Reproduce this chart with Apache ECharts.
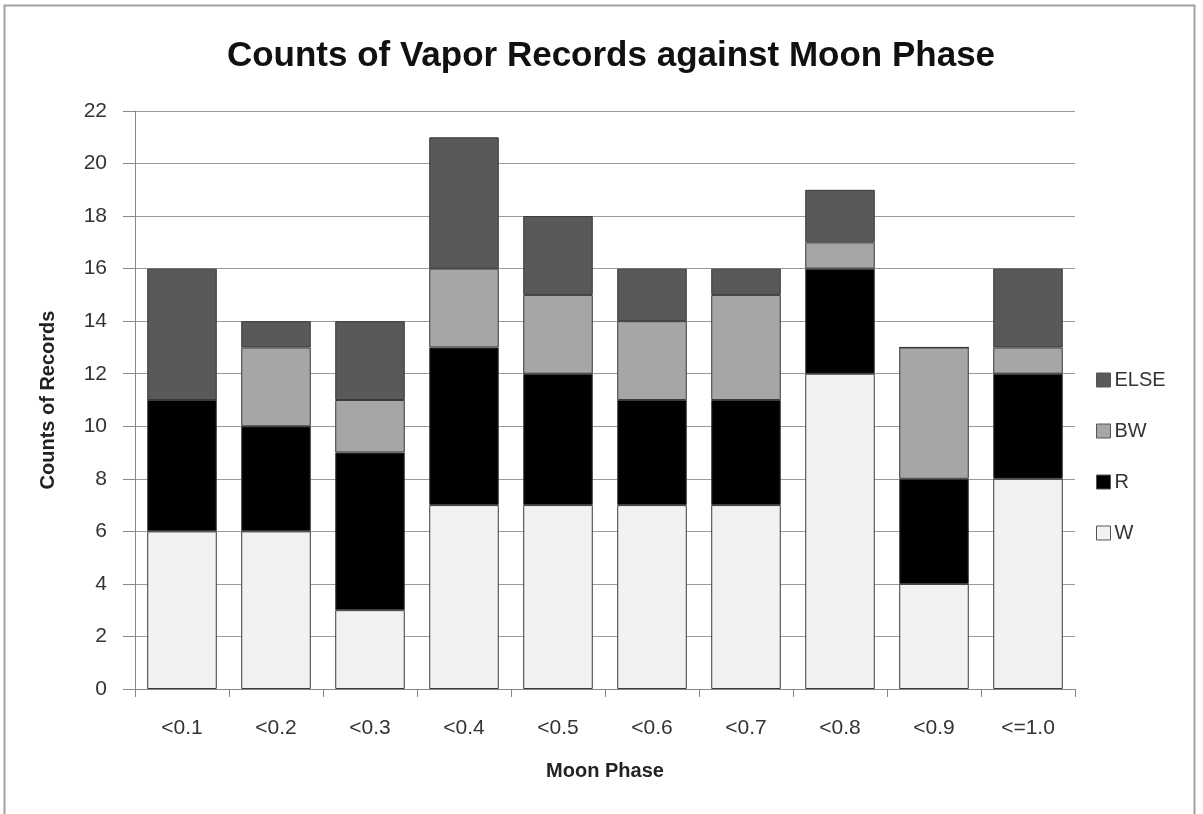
<!DOCTYPE html>
<html><head><meta charset="utf-8">
<script src="https://cdn.jsdelivr.net/npm/echarts@6/dist/echarts.min.js"></script>
<style>html,body{margin:0;padding:0;background:#fff}#c{width:1203px;height:814px}</style>
</head><body><div id="c"></div>
<script>
const categories = ['<0.1','<0.2','<0.3','<0.4','<0.5','<0.6','<0.7','<0.8','<0.9','<=1.0'];
const W    = [6, 6, 3, 7, 7, 7, 7, 12, 4, 8];
const R    = [5, 4, 6, 6, 5, 4, 4, 4, 4, 4];
const BW   = [0, 3, 2, 3, 3, 3, 4, 1, 5, 1];
const ELSE = [5, 1, 3, 5, 3, 2, 1, 2, 0, 3];
const yTicks = [0,2,4,6,8,10,12,14,16,18,20,22];

const font = 'Liberation Sans';
const chart = echarts.init(document.getElementById('c'));
const mk = (name, data, color) => ({
  name, type:'bar', stack:'s', data, barCategoryGap:'26%',
  itemStyle:{color, borderColor:'#3a3a3a', borderWidth:1},
  emphasis:{disabled:true}
});
chart.setOption({
  backgroundColor:'#fff',
  animation:false,
  graphic:[{type:'rect', shape:{x:4.5,y:5.5,width:1190,height:820}, style:{fill:'none', stroke:'#a0a0a0', lineWidth:2}}],
  title:{text:'Counts of Vapor Records against Moon Phase', left:606, top:34, textAlign:'center',
    textStyle:{fontFamily:font, fontSize:35, fontWeight:'bold', color:'#111'}},
  legend:{orient:'vertical', left:1091, top:365, itemGap:31, itemWidth:14, itemHeight:14,
    icon:'rect',
    data:['ELSE','BW','R','W'],
    itemStyle:{borderColor:'#555', borderWidth:1},
    textStyle:{fontFamily:font, fontSize:20, color:'#333', padding:[0,0,0,-1]}},
  grid:{left:135, right:128, top:111, bottom:125},
  xAxis:{type:'category', data:categories,
    name:'Moon Phase', nameLocation:'middle', nameGap:72,
    nameTextStyle:{fontFamily:font, fontSize:20, fontWeight:'bold', color:'#222'},
    axisLine:{lineStyle:{color:'#888'}},
    axisTick:{show:true, alignWithLabel:false, length:8, lineStyle:{color:'#888'}},
    axisLabel:{fontFamily:font, fontSize:21, color:'#333', margin:29}},
  yAxis:{type:'value', min:0, max:22, interval:2,
    name:'Counts of Records', nameLocation:'middle', nameGap:77,
    nameTextStyle:{fontFamily:font, fontSize:20, fontWeight:'bold', color:'#222'},
    axisLine:{show:true, lineStyle:{color:'#888'}},
    axisTick:{show:true, length:12, lineStyle:{color:'#888'}},
    axisLabel:{fontFamily:font, fontSize:21, color:'#333', margin:28,
      formatter:v=>yTicks.includes(v)?String(v):''},
    splitLine:{lineStyle:{color:'#9a9a9a'}}},
  series:[mk('W',W,'#f2f2f2'), mk('R',R,'#000000'), mk('BW',BW,'#a6a6a6'), mk('ELSE',ELSE,'#595959')]
});
</script></body></html>
